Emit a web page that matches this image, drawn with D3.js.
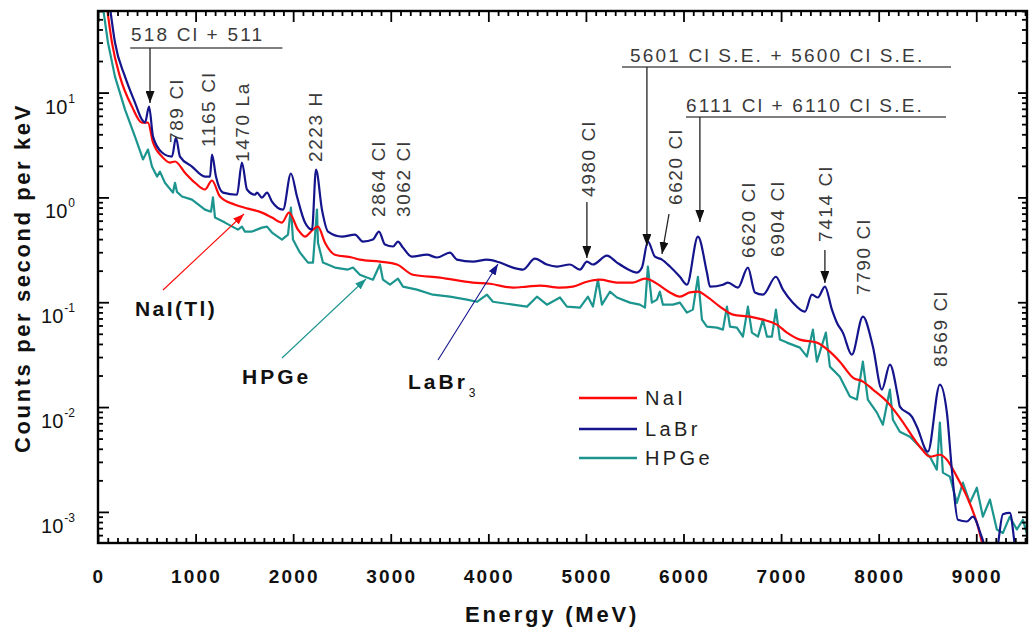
<!DOCTYPE html>
<html><head><meta charset="utf-8">
<script src="https://cdn.jsdelivr.net/npm/d3@7"></script>
<style>
html,body{margin:0;padding:0;background:#fff;}
svg{display:block;font-family:"Liberation Sans",Arial,sans-serif;}
</style></head>
<body><svg id="chart" width="1030" height="632"></svg>
<script>
// ---------------- DATA ----------------
const xMajorTicks = [0,1000,2000,3000,4000,5000,6000,7000,8000,9000];
const yExponents = [-3,-2,-1,0,1];
const seriesNames = ["NaI","LaBr","HPGe"];

const labrE = [123,174,277,379,451,482,523,564,656,758,799,840,963,1096,1148,1168,1209,1281,1424,1475,1527,1609,1629,1680,1732,1783,1896,1977,2039,2121,2193,2234,2295,2357,2500,2633,2715,2818,2879,2941,3023,3074,3125,3217,3371,3473,3607,3678,3842,3986,4119,4252,4355,4477,4600,4703,4836,4939,5010,5072,5215,5318,5420,5523,5574,5635,5707,5779,5861,5963,6035,6148,6240,6271,6404,6455,6558,6660,6732,6814,6947,7019,7121,7244,7316,7377,7449,7521,7572,7633,7725,7838,7941,8033,8115,8197,8217,8340,8392,8504,8627,8699,8750,8812,8904,8965,9058,9119,9200,9273,9344,9416,9520];
const labrV = [65,30.0,14.2,8.03,5.52,5.17,7.35,3.80,2.68,2.45,3.72,2.45,1.97,1.58,1.58,2.56,1.58,1.11,1.06,2.15,1.19,1.06,1.11,0.996,1.11,0.912,0.765,1.69,1.02,0.575,0.493,1.84,0.765,0.472,0.423,0.442,0.379,0.396,0.472,0.355,0.340,0.379,0.332,0.272,0.284,0.267,0.297,0.255,0.244,0.255,0.239,0.214,0.205,0.261,0.229,0.219,0.229,0.205,0.244,0.229,0.278,0.239,0.209,0.192,0.214,0.379,0.272,0.255,0.219,0.175,0.147,0.423,0.192,0.141,0.147,0.154,0.138,0.214,0.124,0.118,0.175,0.132,0.0991,0.0813,0.118,0.111,0.141,0.0850,0.0638,0.0513,0.0316,0.0729,0.0377,0.0147,0.0254,0.0126,0.0101,0.0081,0.0065,0.00375,0.0164,0.00885,0.00253,0.00084,0.00081,0.00090,0.00057,0.0004,0.0004,0.00095,0.00098,0.0004,0.0004];

const naiE = [92,143,225,348,451,512,564,656,738,789,891,994,1096,1168,1250,1404,1537,1680,1783,1885,1957,2049,2121,2203,2254,2326,2428,2602,2684,2889,3064,3227,3504,3842,4016,4252,4396,4529,4734,4867,5010,5143,5318,5482,5605,5656,5758,5861,5963,6066,6148,6240,6373,6506,6680,6814,6957,7060,7193,7367,7500,7602,7736,7838,7941,8084,8217,8422,8525,8627,8699,8801,8904,9006,9068,9150];
const naiV = [65,30.0,14.2,7.35,5.17,5.17,3.34,2.45,2.15,2.20,1.72,1.38,1.19,1.45,1.02,0.853,0.782,0.716,0.642,0.575,0.716,0.493,0.423,0.493,0.526,0.370,0.284,0.267,0.255,0.244,0.229,0.183,0.172,0.154,0.150,0.138,0.141,0.144,0.138,0.141,0.157,0.164,0.154,0.154,0.168,0.164,0.144,0.124,0.113,0.124,0.126,0.113,0.0908,0.0762,0.0729,0.0682,0.0611,0.0513,0.0440,0.0412,0.0338,0.0271,0.0191,0.0175,0.0147,0.0113,0.0079,0.00419,0.00336,0.00351,0.00315,0.00217,0.00140,0.00079,0.00048,0.0003];

const hpgeE = [51,102,174,277,379,461,512,553,605,635,686,768,789,809,861,963,1096,1158,1178,1199,1301,1434,1475,1506,1578,1680,1732,1783,1885,1947,1977,1998,2070,2152,2203,2244,2254,2305,2428,2561,2613,2684,2756,2818,2889,2920,2992,3074,3125,3268,3432,3607,3781,3883,3986,4047,4252,4396,4498,4600,4734,4805,4939,5021,5072,5123,5164,5246,5318,5451,5553,5605,5635,5676,5728,5758,5789,5892,5963,6035,6096,6148,6189,6240,6343,6404,6445,6476,6547,6609,6660,6701,6763,6814,6855,6906,6947,6988,7060,7193,7265,7326,7367,7459,7500,7602,7705,7777,7838,7889,7982,8043,8115,8146,8217,8320,8422,8525,8596,8627,8658,8730,8801,8863,8935,9006,9068,9140,9211,9273,9344,9416,9478,9529];
const hpgeV = [65,30.0,14.2,6.88,3.80,2.30,2.86,1.97,1.58,1.76,1.38,1.11,1.38,1.13,1.02,0.953,0.765,0.73,1.0,0.642,0.575,0.493,0.526,0.472,0.472,0.515,0.526,0.462,0.396,0.442,0.800,0.396,0.297,0.239,0.239,0.765,0.370,0.239,0.214,0.205,0.214,0.183,0.172,0.164,0.229,0.164,0.147,0.168,0.141,0.132,0.118,0.113,0.106,0.101,0.118,0.101,0.0948,0.0908,0.113,0.0948,0.111,0.0908,0.0888,0.113,0.0908,0.164,0.0948,0.126,0.111,0.0991,0.0948,0.0888,0.219,0.0991,0.106,0.126,0.0948,0.0948,0.0991,0.0796,0.0850,0.175,0.0682,0.0585,0.0573,0.0548,0.0908,0.0585,0.0573,0.0470,0.0908,0.0513,0.0470,0.0682,0.0470,0.0470,0.0850,0.0440,0.0412,0.0369,0.0303,0.0548,0.0271,0.0513,0.0243,0.0195,0.0126,0.0118,0.0271,0.0118,0.00885,0.00679,0.0147,0.00758,0.00582,0.00522,0.00419,0.00336,0.00253,0.00710,0.00237,0.00217,0.00122,0.00190,0.00122,0.00170,0.00090,0.00131,0.00068,0.00063,0.00090,0.00068,0.00084,0.00058];

// peak labels (energy used for x, text as shown)
const peakLabels = ["789 Cl","1165 Cl","1470 La","2223 H","2864 Cl","3062 Cl","4980 Cl","6620 Cl","6620 Cl","6904 Cl","7414 Cl","7790 Cl","8569 Cl"];
const peakLabelE = [799,1127,1475,2223,2868,3125,5021,5912,6660,6957,7449,7838,8627];

// ---------------- LAYOUT ----------------
const L = 98, R = 1027, T = 11, B = 543;
const colors = {NaI:"#ff0a0a", LaBr:"#14148c", HPGe:"#1c958f"};
const svg = d3.select("#chart");
const x = d3.scaleLinear().domain([0, 9520]).range([L, R]);
const y = d3.scaleLog().domain([5.05e-4, 60]).range([B, T]);

const defs = svg.append("defs");
defs.append("clipPath").attr("id","clip").append("rect")
  .attr("x",L).attr("y",T).attr("width",R-L).attr("height",B-T);
function marker(id, color, len, wid){
  defs.append("marker").attr("id",id).attr("viewBox",`0 ${-wid/2} ${len} ${wid}`)
    .attr("refX",len).attr("refY",0).attr("markerWidth",len).attr("markerHeight",wid)
    .attr("markerUnits","userSpaceOnUse").attr("orient","auto")
    .append("path").attr("d",`M0,${-wid/2}L${len},0L0,${wid/2}Z`).attr("fill",color);
}
marker("arrBlack","#111",12,9);
marker("arrRed",colors.NaI,11,8);
marker("arrTeal",colors.HPGe,11,8);
marker("arrNavy",colors.LaBr,11,8);

// ---------------- CURVES ----------------
const series = [
  {name:"HPGe", E:hpgeE, V:hpgeV, curve:d3.curveLinear},
  {name:"NaI", E:naiE, V:naiV, curve:d3.curveMonotoneX},
  {name:"LaBr", E:labrE, V:labrV, curve:d3.curveMonotoneX}
];
const gCurves = svg.append("g").attr("clip-path","url(#clip)");
series.forEach(s=>{
  const pts = d3.zip(s.E, s.V);
  const line = d3.line().x(d=>x(d[0])).y(d=>y(d[1])).curve(s.curve);
  gCurves.append("path").datum(pts).attr("d",line)
    .attr("fill","none").attr("stroke",colors[s.name]).attr("stroke-width",2.2)
    .attr("stroke-linejoin","round");
});

// ---------------- AXES ----------------
const xMinor = d3.range(0, 9501, 100).filter(v=>v%1000!==0);
const yMinor = [];
for(let e=-4;e<=1;e++) for(let k=2;k<=9;k++){const v=k*Math.pow(10,e); if(v>=5.05e-4&&v<=60) yMinor.push(v);}
const yMajor = yExponents.map(e=>Math.pow(10,e));

function axisG(gen, tr){
  const g = svg.append("g").attr("transform",tr).call(gen);
  g.select(".domain").remove();
  g.selectAll("line").attr("stroke","#000").attr("stroke-width",1.8);
  g.selectAll("text").remove();
  return g;
}
axisG(d3.axisBottom(x).tickValues(xMajorTicks).tickSize(-9), `translate(0,${B})`);
axisG(d3.axisBottom(x).tickValues(xMinor).tickSize(-5), `translate(0,${B})`);
axisG(d3.axisTop(x).tickValues(xMajorTicks).tickSize(-11), `translate(0,${T})`);
axisG(d3.axisTop(x).tickValues(xMinor).tickSize(-5), `translate(0,${T})`);
axisG(d3.axisLeft(y).tickValues(yMajor).tickSize(-11), `translate(${L},0)`);
axisG(d3.axisLeft(y).tickValues(yMinor).tickSize(-5), `translate(${L},0)`);
axisG(d3.axisRight(y).tickValues(yMajor).tickSize(-9), `translate(${R},0)`);
axisG(d3.axisRight(y).tickValues(yMinor).tickSize(-5), `translate(${R},0)`);

svg.append("rect").attr("x",L).attr("y",T).attr("width",R-L).attr("height",B-T)
  .attr("fill","none").attr("stroke","#000").attr("stroke-width",2.4);

// x tick labels
svg.append("g").selectAll("text").data(xMajorTicks).join("text")
  .attr("x",d=>x(d)+1).attr("y",B+40).attr("text-anchor","middle")
  .attr("font-size",19).attr("font-weight","bold").attr("letter-spacing",2.2)
  .attr("fill","#111").text(d=>String(d));

// y tick labels 10^n
const gy = svg.append("g");
yExponents.forEach(e=>{
  const ty = y(Math.pow(10,e));
  const ex = gy.append("text").attr("x",75).attr("y",ty+10).attr("text-anchor","end")
    .attr("font-size",12).attr("fill","#111").text(String(e));
  const w = ex.node().getComputedTextLength();
  gy.append("text").attr("x",75-w-1).attr("y",ty+21).attr("text-anchor","end")
    .attr("font-size",20).attr("fill","#111").attr("letter-spacing",0).text("10");
});

// axis titles
svg.append("text").attr("x",552).attr("y",622).attr("text-anchor","middle")
  .attr("font-size",22).attr("font-weight","bold").attr("letter-spacing",2.8)
  .attr("fill","#111").text("Energy (MeV)");
svg.append("text").attr("transform","translate(30,278) rotate(-90)").attr("text-anchor","middle")
  .attr("font-size",22).attr("font-weight","bold").attr("letter-spacing",2.6)
  .attr("fill","#111").text("Counts per second per keV");

// ---------------- ANNOTATIONS ----------------
const annColor = "#3a3a3a";
const ann = svg.append("g");
// rotated peak labels: bottom y positions
const peakLabelBottom = [143,147,162,162,217,217,197,205,258,257,242,295,367];
peakLabels.forEach((t,i)=>{
  ann.append("text")
    .attr("transform",`translate(${x(peakLabelE[i])},${peakLabelBottom[i]}) rotate(-90)`)
    .attr("dy","0.36em").attr("font-size",19).attr("letter-spacing",1.6)
    .attr("fill",annColor).text(t);
});
// bracket labels
function bracket(text, tx, ty, lx1, lx2, ly, ax, ay2){
  ann.append("text").attr("x",tx).attr("y",ty).attr("font-size",19).attr("letter-spacing",2.2)
    .attr("fill",annColor).text(text);
  ann.append("line").attr("x1",lx1).attr("x2",lx2).attr("y1",ly).attr("y2",ly)
    .attr("stroke","#555").attr("stroke-width",1.6);
  ann.append("line").attr("x1",ax).attr("x2",ax).attr("y1",ly).attr("y2",ay2)
    .attr("stroke","#222").attr("stroke-width",1.3).attr("marker-end","url(#arrBlack)");
}
bracket("518 Cl + 511", 131, 41, x(330), x(1890), 48, x(533), 103);
bracket("5601 Cl S.E. + 5600 Cl S.E.", 630, 62, 622, 951, 67, x(5625), 246);
bracket("6111 Cl + 6110 Cl S.E.", 686, 112, 686, 946, 117, x(6168), 222);
function arrow(x1,y1,x2,y2,m,c,w){
  ann.append("line").attr("x1",x1).attr("y1",y1).attr("x2",x2).attr("y2",y2)
    .attr("stroke",c).attr("stroke-width",w).attr("marker-end",`url(#${m})`);
}
arrow(x(5010),202,x(5010),258,"arrBlack","#222",1.3);
arrow(669,214,662,254,"arrBlack","#222",1.3);
arrow(x(7449),250,x(7449),283,"arrBlack","#222",1.3);
// detector labels with arrows
arrow(163,290,244,214,"arrRed",colors.NaI,1.1);
arrow(282,358,366,279,"arrTeal",colors.HPGe,1.1);
arrow(438,360,498,264,"arrNavy",colors.LaBr,1.1);
ann.append("text").attr("x",135).attr("y",316).attr("font-size",21).attr("font-weight","bold")
  .attr("letter-spacing",2.4).attr("fill","#111").text("NaI(Tl)");
ann.append("text").attr("x",242).attr("y",384).attr("font-size",21).attr("font-weight","bold")
  .attr("letter-spacing",3).attr("fill","#111").text("HPGe");
const lb = ann.append("text").attr("x",408).attr("y",389).attr("font-size",21).attr("font-weight","bold")
  .attr("letter-spacing",3).attr("fill","#111");
lb.append("tspan").text("LaBr");
lb.append("tspan").attr("dy",8).attr("font-size",12).attr("font-weight","normal").attr("dx",1).text("3");

// ---------------- LEGEND ----------------
const legY = [398,429,458];
const leg = svg.append("g");
seriesNames.forEach((n,i)=>{
  leg.append("line").attr("x1",579).attr("x2",637).attr("y1",legY[i]).attr("y2",legY[i])
    .attr("stroke",colors[n]).attr("stroke-width",2.6);
  leg.append("text").attr("x",645).attr("y",legY[i]+7).attr("font-size",20)
    .attr("letter-spacing",3.4).attr("fill","#222").text(n);
});
</script></body></html>
